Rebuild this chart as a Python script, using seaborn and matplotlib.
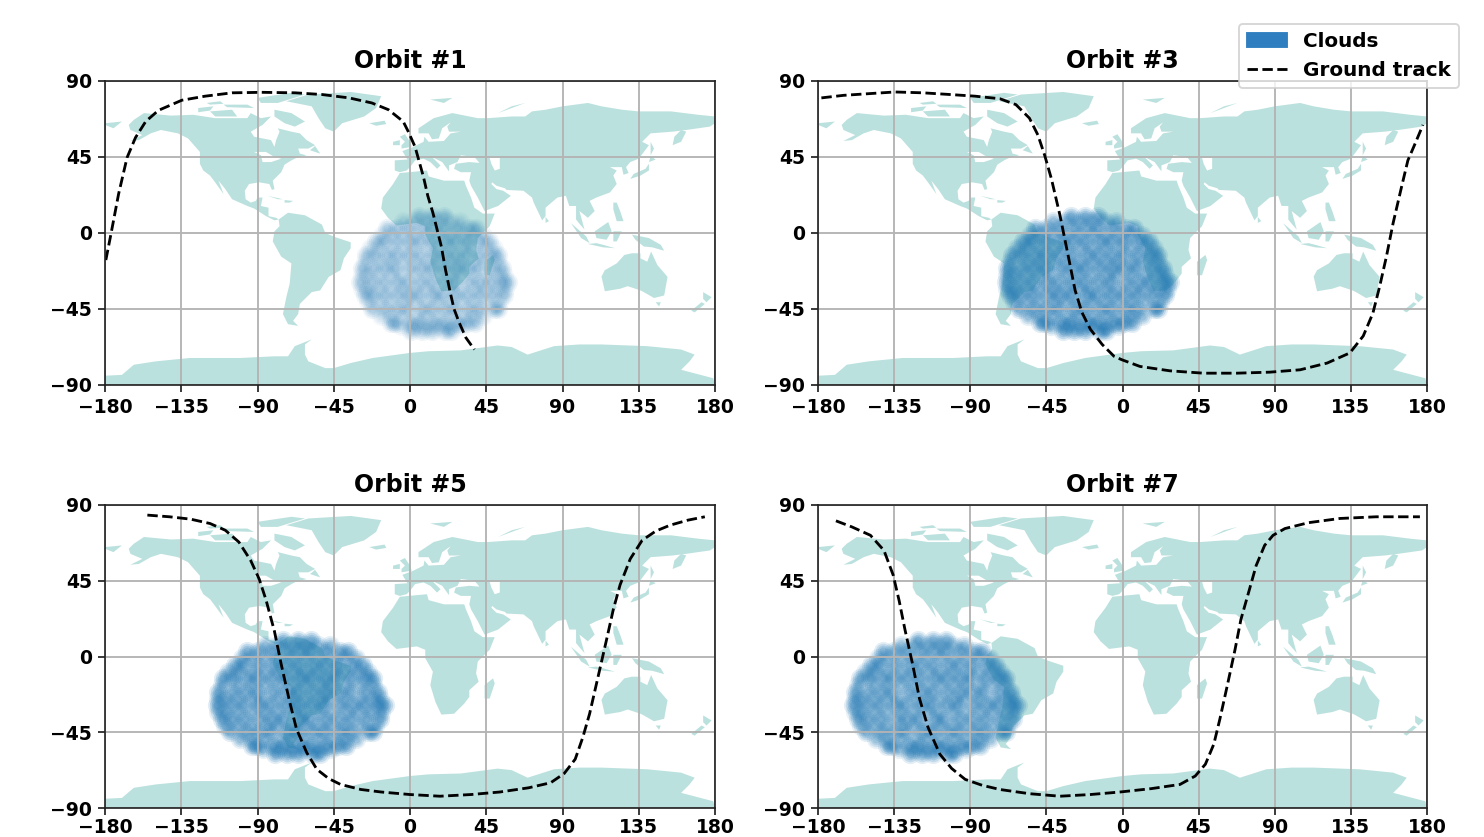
import matplotlib
matplotlib.use("Agg")
import matplotlib.pyplot as plt
from matplotlib.patches import Patch
from matplotlib.lines import Line2D
import pandas as pd
import seaborn as sns

sns.set_theme(style="ticks")
plt.rcParams.update({"font.family": ["DejaVu Sans"], "font.weight": "bold", "text.color": "black",
                     "axes.labelcolor": "black", "xtick.color": "black", "ytick.color": "black"})

LAND = "#bbe1de"
CLOUD = "#1f77b4"

titles = ["Orbit #1", "Orbit #3", "Orbit #5", "Orbit #7"]
ticks_x = [-180, -135, -90, -45, 0, 45, 90, 135, 180]
ticks_y = [-90, -45, 0, 45, 90]

track_1 = [(-179.5,-16),(-176.5,-0.7),(-172,23),(-167,44.6),(-162,56.5),(-156,66),(-148.5,72.6),(-134.7,78.6),(-121,81),(-105,83),(-87.5,83.3),(-67.8,83),(-52,82),(-36,80),(-22.5,77),(-12.7,73),(-4,66),(-1,60),(3,51),(5.5,42),(8,33),(10.5,22),(13.5,12),(16,2),(18.5,-8),(21,-22),(23.7,-35),(26,-45),(29,-53),(33,-62),(38,-69)]
track_3 = [(-178,80),(-165,81.5),(-150,82.5),(-134.5,83.5),(-118,83),(-102,82),(-87,81),(-72.5,79.5),(-63,76),(-55,68),(-50,58),(-46,46),(-42,32),(-37,10.6),(-32,-14),(-28,-34),(-24,-47),(-19,-57),(-12,-66),(-5,-73),(-0.5,-75),(10.3,-79),(28,-81.6),(47.8,-83),(67.5,-83),(87,-82.4),(105,-81),(121,-77),(134.4,-71),(142.3,-61),(148,-47.5),(152,-31.7),(156,-14),(160,6),(165,27.5),(168.7,43),(173,53),(177.6,64)]
track_5 = [(-155,84),(-142,83),(-129.5,81.6),(-118,79),(-109,75),(-101,68),(-94,57),(-89,46),(-85,33.7),(-80,15),(-76,-4.7),(-71,-27),(-67,-43),(-61,-57),(-55,-67),(-48,-72.5),(-41,-76),(-29,-79),(-17,-80.5),(0,-82),(17.7,-83),(36,-82),(53,-80.5),(70,-78),(83,-75),(91,-69.5),(97.5,-61),(102,-48),(106,-34),(111,-12),(116,10),(120,28),(124,42.6),(130,58),(137,69),(145,74.5),(153.5,78),(164,81),(174,83)]
track_7 = [(-169.4,80.6),(-160,77),(-149,72),(-141,63),(-135.6,48.5),(-132,33),(-128.6,16),(-124,-5),(-120,-25),(-115,-42),(-108,-58),(-101,-66.5),(-93,-73),(-83,-76.5),(-72.5,-79),(-55,-81.5),(-37,-83),(-19,-82),(-1.5,-80.5),(17,-78.5),(34,-76),(43,-71),(49,-64),(54,-52),(57.6,-37),(62,-17),(66.5,4),(70,22),(75,39.7),(79,54),(84,66),(89,72),(96,76),(110,79.5),(128.5,82),(150,83),(175.8,83)]
tracks = [track_1, track_3, track_5, track_7]

cloud_center_lon = [13, -22, -66, -112]
cloud_half_width = [45, 50, 51, 50]
cloud_main_alpha = [0.13, 0.25, 0.25, 0.24]
cloud_fill_alpha = [0.08, 0.20, 0.20, 0.19]
marker_sizes = [18, 38, 68, 105]
marker_weights = [0.8, 0.8, 0.7, 0.5]

cloud_main = {
    10: [-9,0,8],
    3: [-31,-24,-16,-7,1,8,17,25,30],
    -5: [-38,-33,-24,-15,-8,0,9,16,24,33,39],
    -13: [-45,-39,-31,-24,-16,-8,1,8,16,23,32,40,45],
    -21: [-48,-40,-32,-25,-15,-7,0,9,17,24,31,41,48],
    -29: [-49,-41,-33,-24,-17,-8,-1,8,15,25,33,40,48,52],
    -37: [-46,-40,-32,-23,-16,-9,1,7,16,24,32,41,49],
    -45: [-41,-32,-24,-17,-7,0,9,16,25,32,42,45],
    -53: [-28,-25,-15,-8,1,8,17,24,29],
    -58: [-14,-7,0,9,13],
}
cloud_fill = {
    7: [-20,-12,-4,4,12,19],
    -1: [-34,-28,-20,-12,-4,5,13,21,28,35],
    -9: [-42,-36,-28,-20,-12,-3,4,12,21,28,36,42],
    -17: [-46,-36,-28,-20,-11,-3,5,13,20,29,37,45],
    -25: [-48,-44,-36,-28,-21,-12,-4,4,13,19,28,37,45,49],
    -33: [-48,-44,-36,-28,-20,-12,-4,3,12,20,29,36,44,50],
    -41: [-44,-36,-28,-19,-12,-4,4,12,20,28,37,46],
    -49: [-35,-28,-20,-11,-4,4,13,21,28,35],
    -55: [-21,-12,-4,4,12,20],
}

land_polygons = [
 # North and Central America
 [(-166,64),(-163,67),(-157,71),(-141,69.5),(-128,70),(-115,68),(-108,68),(-96,68),(-94,71),(-88,68),(-82,69),(-87,64),(-94,60),(-92,57),(-82,55),(-80,51),(-79,55),(-77,60),(-78,62),(-70,60),(-65,59),(-61,55),(-56,52),(-60,50),(-66,50),(-65,47),(-61,46),(-67,44.5),(-70,43),(-74,40.5),(-76,36),(-81,31),(-80,26),(-81.5,25.5),(-83,29),(-89,30),(-95,29),(-97.5,25),(-97,20),(-94,18),(-91,19),(-90,21),(-87,21),(-88,16),(-83.5,15),(-83.5,10),(-79,9),(-77.5,8),(-80,7.5),(-85,10),(-92,14.5),(-96,16),(-105,20),(-109,26),(-113,31),(-110,23),(-115,30),(-118,34),(-122,37),(-124,41),(-124,48),(-131,56),(-137,59),(-147,61),(-153,59),(-160,55),(-165,54.5),(-158,58),(-165,61)],
 # Greenland and Arctic islands
 [(-73,78),(-60,82),(-35,83.5),(-17,81),(-20,74),(-27,69),(-40,65),(-45,60),(-50,62),(-54,68),(-58,75)],
 [(-80,73),(-70,71),(-62,66),(-68,63),(-74,65),(-80,69)],
 [(-90,80),(-70,83),(-62,82),(-78,77),(-88,77)],
 [(-118,72),(-105,73),(-102,69),(-115,69)],
 [(-125,74),(-116,75),(-118,72.5),(-125,71.5)],
 [(-110,76),(-96,76),(-92,74),(-108,74.5)],
 [(-120,77),(-112,78),(-110,76.5),(-118,76)],
 [(-84,22),(-75,20),(-78,20),(-84,22)],
 [(-74,19.5),(-69,19),(-71,18),(-74,18)],
 [(-59,49),(-53,47),(-56,51.5)],
 # South America
 [(-72,12),(-62,10.5),(-52,5),(-50,0),(-44,-2.5),(-35,-5.5),(-35,-9),(-39,-15),(-41,-22),(-48,-26),(-53,-34),(-58,-35),(-62,-39),(-65,-42),(-66,-48),(-69,-52),(-66,-55),(-72,-54),(-75,-48),(-73,-38),(-71,-30),(-70,-18),(-76,-14),(-81,-5),(-80,1),(-77,4),(-77.5,8)],
 # Africa
 [(-6,35.5),(10,37),(11,33.5),(20,31),(32,31),(33,28),(36,21),(38,15),(43,11.5),(50,11.5),(47,4),(40,-3),(39,-10),(40.5,-15),(35,-20),(35,-24),(32,-28),(26,-34),(18.5,-34.5),(15,-27),(12,-17),(13.5,-9),(9,-1),(9,4),(4,6),(-8,4.5),(-13,9),(-17,14.5),(-16,21),(-10,29)],
 [(49,-13),(50,-16),(47,-25),(44,-25),(44,-17)],
 # Eurasia
 [(-9,37),(-9,43),(-1.5,43.5),(-4.5,48.5),(2,51),(8,54),(8.5,57),(11,54),(20,54.5),(24,59),(30,60),(23,60),(22,63),(24,65.5),(19,62),(17,56),(13,55.5),(11,59),(5,59),(5,62),(14,68),(25,71),(40,68),(46,68),(60,69),(68,69),(72,72),(80,73),(90,75),(105,77),(113,75),(125,73),(135,72),(154,72),(170,70),(180,69),(180,65),(177,63),(163,61),(155,60),(142,59),(137,54),(141,52),(135,44),(130,42),(127.5,39),(129,35.5),(126,34.5),(125,39),(121,39),(118,39),(122,37),(120,34),(122,29),(118,24),(110,21),(106,19),(109,13),(105,9),(100,13),(103,2),(100,5.5),(98,8),(98,16),(94,16),(92,22),(87,21),(80,15),(80,10),(78,7.5),(73,18),(72,21),(67,25),(57,25.5),(56,26.5),(51,28),(48.5,30),(48,29),(51,26),(55,25),(59.5,22),(52,16),(44,13),(40,21),(36,28),(35,31),(36,36),(30,36),(26,38),(27,41),(35,42),(41,41.5),(38,45),(30,46),(28,42),(23,40),(23,36.5),(19,42),(13,45),(18,40),(16,38),(12,42),(8,44),(3,43),(0,39),(-2,37),(-6,36)],
 [(155,52),(160,54),(163,60),(160,61),(156,57)],
 # Islands
 [(-5,50),(1,51),(0,54),(-3,58.5),(-6,57),(-3,54),(-5,52)],
 [(-10,52),(-6,52),(-6,55),(-10,54)],
 [(-24,65),(-15,66.5),(-14,64.5),(-20,63.5)],
 [(130,32),(136,34),(141,37),(141,41),(139,38),(132,35)],
 [(141,42),(145,43.5),(142,45.5)],
 [(142,46),(144,50),(142,54)],
 [(95,5.8),(104,-2),(106,-6),(101,-3)],
 [(105,-6.5),(114,-8.5),(121,-9),(114,-7),(110,-6)],
 [(109,1),(117,6.5),(119,1),(116,-4),(110,-3)],
 [(120,1),(125,1),(122,-5),(120,-5)],
 [(131,-1),(141,-3),(148,-7),(150,-10.5),(143,-8.5),(138,-8),(133,-4)],
 [(120,18),(122,18),(124,13),(126,7),(122,7),(120,14)],
 [(80,9.5),(82,7),(80,6)],
 [(113,-25.8),(115,-22),(122,-18),(126.5,-13),(131,-12),(136,-12),(136,-15),(140,-17),(142.3,-11),(146,-19),(152,-26),(150,-37),(144,-38.5),(138,-35),(136,-34),(128.5,-31.5),(124,-33),(115,-34.5)],
 [(145,-41),(148,-41),(147,-43.5)],
 [(173,-35),(178,-38),(175,-41),(173,-39)],
 [(172,-41),(174,-42),(168,-47),(166,-46)],
 [(52,71),(68,77),(60,75)],
 [(12,79),(25,80),(20,77)],
 [(-180,65),(-170,66),(-175,62),(-180,64)],
 # Antarctica
 [(-180,-90),(-180,-84.5),(-170,-84),(-163,-78),(-150,-76),(-130,-74),(-100,-74),(-80,-73),(-72,-73),(-68,-67),(-58,-63),(-62,-66),(-62,-72),(-60,-76),(-50,-80),(-45,-80),(-35,-77),(-22,-74),(0,-71),(11,-70),(30,-69.5),(51.7,-66.6),(60,-67.5),(69.4,-72),(85,-67),(100,-66),(113,-66),(140,-67),(160,-69),(168,-72),(165,-76),(160,-81),(179,-86),(180,-90)],
]
water_polygons = [
 [(47,44.6),(53,44.6),(53,38),(50,37),(48,41)],
 [(-92,48),(-85,48),(-80,45),(-76,44),(-82,42),(-87,42),(-88,46)],
]

W, H = 1484, 837
boxes = [(105, 81, 715, 385), (818, 81, 1427, 385), (105, 505, 715, 808), (818, 505, 1427, 808)]


def cloud_frame(rows, center, half):
    lons, lats = [], []
    for lat, offs in rows.items():
        for off in offs:
            lons.append(center + off * half / 52)
            lats.append(lat)
    return pd.DataFrame({"lon": lons, "lat": lats})


fig = plt.figure(figsize=(W / 135, H / 135), dpi=135)

for i, box in enumerate(boxes):
    x0, y0, x1, y1 = box
    ax = fig.add_axes([x0 / W, 1 - y1 / H, (x1 - x0) / W, (y1 - y0) / H])
    for poly in land_polygons:
        ax.fill(*zip(*poly), color=LAND, lw=0, zorder=1)
    for poly in water_polygons:
        ax.fill(*zip(*poly), color="white", lw=0, zorder=1.1)
    ax.grid(True, color="#b4b4b4", lw=1.0, zorder=1.5)
    ax.set_axisbelow(False)

    for rows, alpha in ((cloud_fill, cloud_fill_alpha[i]), (cloud_main, cloud_main_alpha[i])):
        clouds = cloud_frame(rows, cloud_center_lon[i], cloud_half_width[i])
        for size, weight in zip(marker_sizes, marker_weights):
            sns.scatterplot(data=clouds, x="lon", y="lat", ax=ax, s=size, color=CLOUD,
                            alpha=alpha * weight, linewidth=0, zorder=2)

    tr = pd.DataFrame(tracks[i], columns=["lon", "lat"])
    sns.lineplot(data=tr, x="lon", y="lat", ax=ax, sort=False, estimator=None, color="black", lw=1.5, ls="--", zorder=3)

    ax.set_xlim(-180, 180)
    ax.set_ylim(-90, 90)
    ax.set_xticks(ticks_x)
    ax.set_yticks(ticks_y)
    ax.set_xlabel("")
    ax.set_ylabel("")
    ax.tick_params(labelsize=10, length=3.5, width=0.8, colors="black")
    if i >= 2:
        ax.tick_params(axis="x", pad=2.0)
    for lab in ax.get_xticklabels() + ax.get_yticklabels():
        lab.set_fontweight("bold")
    for sp in ax.spines.values():
        sp.set_color("#222222")
        sp.set_linewidth(0.9)
        sp.set_zorder(4)
    ax.set_title(titles[i], fontsize=12.6, fontweight="bold", pad=7, color="black")

handles = [Patch(color="#2f7fc0", label="Clouds"), Line2D([], [], color="black", ls="--", lw=1.5, label="Ground track")]
fig.legend(handles=handles, loc="upper right", bbox_to_anchor=(1459 / W, 1 - 24 / H), borderaxespad=0,
           prop={"size": 10.7, "weight": "bold"}, frameon=True, framealpha=0.8, edgecolor="#cccccc", fancybox=True)

fig.savefig("out.png", dpi=135)
